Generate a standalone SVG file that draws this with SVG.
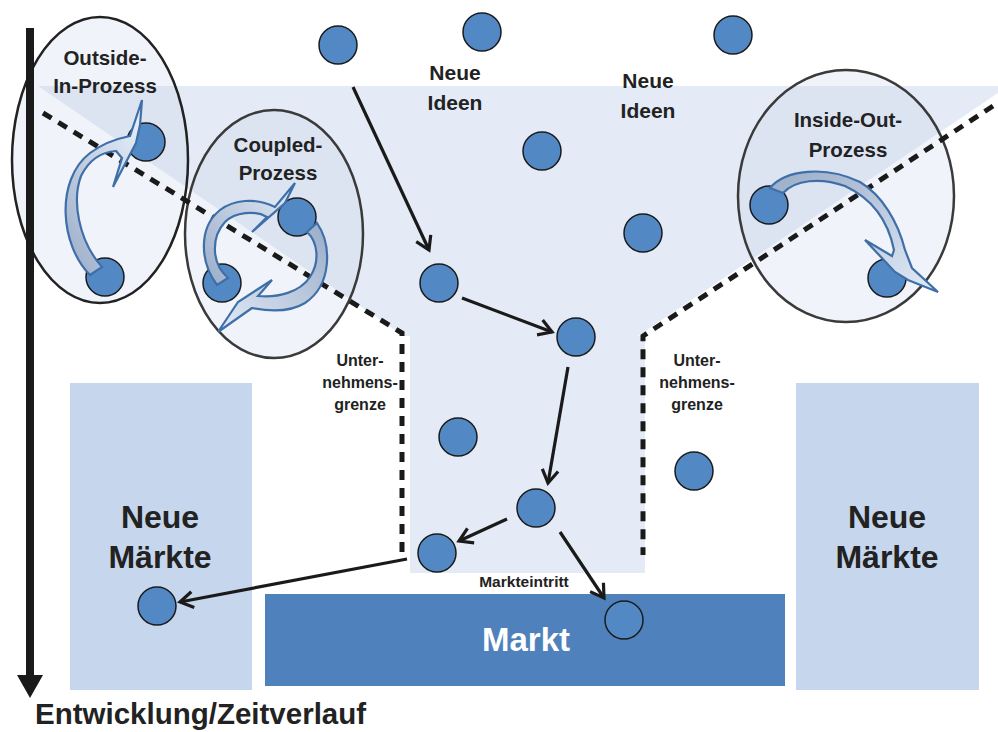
<svg xmlns="http://www.w3.org/2000/svg" width="998" height="732" viewBox="0 0 998 732">
  <style>
    .lbl { font-family: "Liberation Sans", Arial, sans-serif; font-weight: bold; fill: #222; text-anchor: middle; }
    .node { fill: #5289c5; stroke: #1a1a1a; stroke-width: 1.5; }
    .conn { fill: none; stroke: #1a1a1a; stroke-width: 3.2; marker-end: url(#head); }
    .border { fill: none; stroke: #1a1a1a; stroke-width: 5; stroke-dasharray: 10 8; }
    .zone { fill: #c8d3e8; fill-opacity: 0.28; stroke-width: 2.5; }
    .swoosh { stroke: #3f6fa8; stroke-width: 2.2; stroke-linejoin: miter; }
  </style>
  <defs>
    <marker id="head" markerUnits="userSpaceOnUse" markerWidth="20" markerHeight="20" refX="14" refY="8" orient="auto" overflow="visible">
      <path d="M1,0 L14,8 L1,16" fill="none" stroke="#1a1a1a" stroke-width="3.2" stroke-linejoin="miter"/>
    </marker>
    <linearGradient id="gOI" x1="0" y1="1" x2="0.7" y2="0">
      <stop offset="0" stop-color="#9aacc8"/>
      <stop offset="1" stop-color="#e2ebf7"/>
    </linearGradient>
    <linearGradient id="gCA" x1="0" y1="1" x2="1" y2="0">
      <stop offset="0" stop-color="#9aacc8"/>
      <stop offset="1" stop-color="#e2ebf7"/>
    </linearGradient>
    <linearGradient id="gCB" x1="1" y1="0" x2="0" y2="1">
      <stop offset="0" stop-color="#9aacc8"/>
      <stop offset="1" stop-color="#e2ebf7"/>
    </linearGradient>
    <linearGradient id="gIO" x1="0" y1="0" x2="1" y2="1">
      <stop offset="0" stop-color="#9aacc8"/>
      <stop offset="1" stop-color="#e2ebf7"/>
    </linearGradient>
  </defs>

  <rect width="998" height="732" fill="#ffffff"/>

  <!-- funnel of the company -->
  <polygon id="funnel" points="38,86 998,86 998,93 638,336 645,336 645,573 410,573 410,336 404,336" fill="#e4ebf6"/>

  <!-- markets -->
  <g id="neue-maerkte-links">
    <rect x="70" y="383" width="182" height="307" fill="#c6d6ec"/>
    <text class="lbl" x="160" y="528" font-size="32">Neue</text>
    <text class="lbl" x="160" y="568" font-size="32">Märkte</text>
  </g>
  <g id="neue-maerkte-rechts">
    <rect x="796" y="383" width="183" height="307" fill="#c6d6ec"/>
    <text class="lbl" x="887" y="528" font-size="32">Neue</text>
    <text class="lbl" x="887" y="568" font-size="32">Märkte</text>
  </g>
  <g id="markt">
    <rect x="265" y="594" width="520" height="92" fill="#4f81bd"/>
    <text class="lbl" x="526" y="651" font-size="33" style="fill:#ffffff">Markt</text>
  </g>

  <!-- process zones -->
  <ellipse id="zone-outside-in" class="zone" cx="100" cy="160" rx="88" ry="143" stroke="#222"/>
  <ellipse id="zone-coupled" class="zone" cx="274" cy="234" rx="89" ry="124" stroke="#3a3a3a"/>
  <ellipse id="zone-inside-out" class="zone" cx="846" cy="196" rx="108" ry="126" stroke="#3a3a3a"/>

  <!-- company border -->
  <g id="unternehmensgrenze">
    <path class="border" d="M43,113 L402,333 L402,555"/>
    <path class="border" d="M993,106 L643,336 L643,555"/>
  </g>

  <!-- idea nodes -->
  <g id="n1"><circle class="node" cx="338" cy="45" r="19"/></g>
  <g id="n2"><circle class="node" cx="482" cy="32" r="19"/></g>
  <g id="n3"><circle class="node" cx="733" cy="35" r="19"/></g>
  <g id="n4"><circle class="node" cx="542" cy="151" r="19"/></g>
  <g id="n5"><circle class="node" cx="643" cy="233" r="19"/></g>
  <g id="n6"><circle class="node" cx="439" cy="283" r="19"/></g>
  <g id="n7"><circle class="node" cx="576" cy="337" r="19"/></g>
  <g id="n8"><circle class="node" cx="458" cy="437" r="19"/></g>
  <g id="n9"><circle class="node" cx="694" cy="471" r="19"/></g>
  <g id="n10"><circle class="node" cx="536" cy="508" r="19"/></g>
  <g id="n11"><circle class="node" cx="437" cy="553" r="19"/></g>
  <g id="n12"><circle class="node" cx="157" cy="606" r="19"/></g>
  <g id="n13"><circle class="node" cx="624" cy="620" r="19"/></g>
  <g id="oi-a"><circle class="node" cx="146" cy="142" r="19"/></g>
  <g id="oi-b"><circle class="node" cx="105" cy="277" r="19"/></g>
  <g id="cp-a"><circle class="node" cx="297" cy="217" r="19"/></g>
  <g id="cp-b"><circle class="node" cx="222" cy="283" r="19"/></g>
  <g id="io-a"><circle class="node" cx="769" cy="205" r="19"/></g>
  <g id="io-b"><circle class="node" cx="887" cy="278" r="19"/></g>

  <!-- curved process arrows -->
  <g id="swoosh-outside-in">
    <path class="swoosh" fill="url(#gOI)" d="M90,275 C60,245 55,180 90,153 C102,144 115,139 130,136 L142,100 L140,125 L136,143 L113,187 L122,158 L116,151 C100,152 88,162 81,176 C72,200 78,240 102,267 Z"/>
  </g>
  <g id="swoosh-coupled">
    <path class="swoosh" fill="url(#gCA)" d="M217,285 C200,262 198,228 220,210 C233,200 255,197 275,207 L295,183 L285,203 L252,232 L267,217 C255,210 235,212 225,222 C212,236 210,262 228,278 Z"/>
    <path class="swoosh" fill="url(#gCB)" d="M317,223 C332,245 332,285 305,303 C292,311 272,312 252,308 L218,332 L238,302 L272,280 L258,296 C278,298 300,292 310,277 C320,262 318,242 307,232 Z"/>
  </g>
  <g id="swoosh-inside-out">
    <path class="swoosh" fill="url(#gIO)" d="M770,188 C785,170 825,165 860,182 C882,195 898,222 905,250 L912,268 L938,292 L908,280 L895,272 L865,240 L892,256 L894,250 C889,225 875,200 845,186 C820,177 795,180 783,193 Z"/>
  </g>

  <!-- connectors -->
  <g id="connectors">
    <path class="conn" d="M353,87 L429,250"/>
    <path class="conn" d="M462,298 L552,332"/>
    <path class="conn" d="M568,367 L548,483"/>
    <path class="conn" d="M507,519 L459,541"/>
    <path class="conn" d="M560,532 L604,598"/>
    <path class="conn" d="M407,559 L180,602"/>
  </g>

  <!-- time axis -->
  <g id="zeitachse">
    <line x1="30" y1="28" x2="30" y2="678" stroke="#1a1a1a" stroke-width="8"/>
    <polygon points="17,675 43,675 30,698" fill="#1a1a1a"/>
    <text class="lbl" x="35" y="724" font-size="29.5" style="text-anchor:start">Entwicklung/Zeitverlauf</text>
  </g>

  <!-- labels -->
  <g id="labels">
    <text class="lbl" x="105" y="65" font-size="20.5">Outside-</text>
    <text class="lbl" x="105" y="93" font-size="20.5">In-Prozess</text>
    <text class="lbl" x="278" y="152" font-size="20.5">Coupled-</text>
    <text class="lbl" x="278" y="180" font-size="20.5">Prozess</text>
    <text class="lbl" x="848" y="127" font-size="20.5">Inside-Out-</text>
    <text class="lbl" x="848" y="157" font-size="20.5">Prozess</text>
    <text class="lbl" x="455" y="80" font-size="21">Neue</text>
    <text class="lbl" x="455" y="110" font-size="21">Ideen</text>
    <text class="lbl" x="648" y="88" font-size="21">Neue</text>
    <text class="lbl" x="648" y="118" font-size="21">Ideen</text>
    <text class="lbl" x="360" y="366" font-size="16">Unter-</text>
    <text class="lbl" x="360" y="388" font-size="16">nehmens-</text>
    <text class="lbl" x="360" y="410" font-size="16">grenze</text>
    <text class="lbl" x="697" y="366" font-size="16">Unter-</text>
    <text class="lbl" x="697" y="388" font-size="16">nehmens-</text>
    <text class="lbl" x="697" y="410" font-size="16">grenze</text>
    <text class="lbl" x="524" y="587" font-size="15.5">Markteintritt</text>
  </g>
</svg>
